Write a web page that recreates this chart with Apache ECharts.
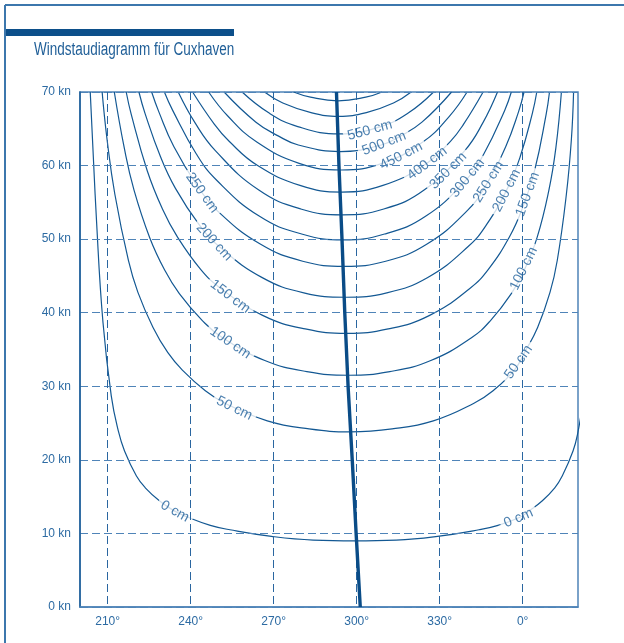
<!DOCTYPE html>
<html>
<head>
<meta charset="utf-8">
<script src="https://cdn.jsdelivr.net/npm/echarts@6/dist/echarts.min.js"></script>
<style>
  html, body { margin: 0; padding: 0; background: #ffffff; }
  #chart { width: 624px; height: 643px; }
</style>
</head>
<body>
<div id="chart"></div>
<script>
// Wind direction in degrees (values past 360 continue into the northern sector)
// against wind speed in knots; each line is one surge height in cm.
const xTicks = [210, 240, 270, 300, 330, 360];
const yTicks = [0, 10, 20, 30, 40, 50, 60, 70];

const surge0 = [[203.7,70],[206.0,52.3],[208.3,38.7],[211.3,28.7],[213.8,24.0],[216.1,21.2],[220.4,17.8],[223.6,16.2],[228.8,14.4],[233.9,13.1],[239.0,12.2],[247.1,11.1],[254.2,10.5],[269.2,9.6],[284.3,9.1],[299.3,9.0],[314.3,9.1],[329.2,9.6],[344.2,10.5],[351.1,11.1],[359.0,12.2],[362.5,13.1],[367.0,14.4],[371.6,16.2],[374.3,17.8],[378.2,21.2],[380.0,23.8],[381.6,27.5]];
const surge50 = [[208.0,70],[209.8,63.5],[212.6,56.1],[217.5,47.1],[220.9,42.8],[226.4,38.0],[231.7,34.6],[237.0,32.2],[245.3,29.4],[252.4,27.7],[267.7,25.3],[282.8,24.2],[297.8,23.8],[312.8,24.2],[327.7,25.3],[342.4,27.7],[349.3,29.4],[357.0,32.2],[360.7,34.6],[365.4,38.0],[369.9,42.8],[372.5,47.1],[375.8,56.1],[377.6,63.5],[378.4,70]];
const surge100 = [[212.4,70],[216.0,62.4],[219.5,56.7],[225.2,50.2],[230.6,45.8],[235.9,42.6],[244.3,38.9],[251.5,36.6],[266.8,33.5],[282.0,32.0],[297.1,31.5],[312.0,32.0],[326.8,33.5],[341.5,36.6],[348.3,38.9],[355.9,42.6],[360.6,45.8],[365.2,50.2],[369.5,56.7],[372.0,62.4],[374.0,70]];
const surge150 = [[216.7,70],[218.5,67.0],[224.3,59.3],[229.8,54.1],[235.2,50.3],[243.6,45.9],[250.9,43.3],[266.2,39.6],[281.4,37.8],[296.5,37.2],[311.4,37.8],[326.2,39.6],[340.9,43.3],[347.6,45.9],[355.2,50.3],[359.8,54.1],[364.3,59.3],[368.5,67.0],[369.7,70]];
const surge200 = [[221.3,70],[223.5,67.1],[229.1,61.2],[234.5,56.9],[243.0,52.0],[250.3,49.0],[265.7,44.8],[280.9,42.7],[296.0,42.1],[310.9,42.7],[325.7,44.8],[340.3,49.0],[347.0,52.0],[354.5,56.9],[359.1,61.2],[363.5,67.1],[365.1,70]];
const surge250 = [[225.9,70],[228.5,67.3],[233.9,62.6],[242.5,57.2],[249.8,53.8],[265.3,49.3],[280.5,47.0],[295.6,46.3],[310.5,47.0],[325.3,49.3],[339.8,53.8],[346.5,57.2],[353.9,62.6],[358.5,67.3],[360.5,70]];
const surge300 = [[230.5,70],[233.5,67.5],[242.0,61.6],[249.4,58.0],[264.9,53.1],[280.1,50.7],[295.2,49.9],[310.1,50.7],[324.9,53.1],[339.4,58.0],[346.0,61.6],[353.5,67.5],[355.9,70]];
const surge350 = [[235.5,70],[241.6,65.8],[249.0,62.0],[264.5,56.7],[279.8,54.1],[294.9,53.3],[309.8,54.1],[324.5,56.7],[339.0,62.0],[345.6,65.8],[350.9,70]];
const surge400 = [[240.7,70],[248.6,65.6],[253.9,63.3],[264.2,60.0],[279.5,57.3],[294.6,56.4],[309.5,57.3],[324.2,60.0],[333.9,63.3],[338.6,65.6],[345.7,70]];
const surge450 = [[246.5,70],[253.5,66.7],[263.9,63.2],[279.2,60.3],[294.3,59.4],[309.2,60.3],[323.9,63.2],[333.5,66.7],[339.9,70]];
const surge500 = [[252.1,70],[263.6,65.9],[271.8,64.0],[278.9,62.8],[294.0,61.9],[308.9,62.8],[315.8,64.0],[323.6,65.9],[334.3,70]];
const surge550 = [[258.6,70],[268.5,67.1],[278.7,65.3],[293.8,64.3],[308.7,65.3],[318.5,67.1],[327.8,70]];
const surge600 = [[266.7,70],[273.3,68.5],[283.5,67.2],[293.5,66.7],[303.5,67.2],[313.3,68.5],[319.7,70]];
const surge650 = [[277.2,70],[283.3,69.3],[293.3,68.8],[303.3,69.3],[309.2,70]];

// Direction of the strongest set-up for each wind speed
const maxSurgeDirection = [[301.3,0],[299.8,10],[298.4,20],[296.9,30],[295.7,40],[294.7,50],[293.6,60],[292.7,70]];

// Height labels written on the lines: [cm, direction, speed]
const lineLabels = [
  [550, 304.8, 64.8], [500, 309.9, 63.0], [450, 316.1, 61.3], [400, 325.5, 60.3],
  [350, 333.1, 59.3], [300, 340.0, 58.3], [250, 347.7, 57.8], [200, 354.2, 56.6],
  [150, 361.8, 56.1], [100, 360.4, 46.0], [50, 358.5, 33.3], [0, 358.5, 12.1],
  [250, 244.1, 56.3], [200, 248.5, 49.6], [150, 254.3, 42.2], [100, 254.3, 35.9],
  [50, 255.8, 27.0], [0, 234.3, 13.0]
];
// text rotation of each label above, in the same order
const lineLabelAngles = [15, 21, 27, 37, 45, 51, 58, 63, 70, 64, 55, 23, -54, -47, -37, -34, -26, -29];

const curves = [surge0, surge50, surge100, surge150, surge200, surge250, surge300,
                 surge350, surge400, surge450, surge500, surge550, surge600, surge650];

const FONT = '"Liberation Sans", Arial, sans-serif';
const LINE = '#135893';
const TEXT = '#2d6ba3';

const chart = echarts.init(document.getElementById('chart'), null, { renderer: 'canvas' });

const series = curves.map(function (pts) {
  return {
    type: 'line', data: pts, smooth: 0.45, symbol: 'none', silent: true, clip: true,
    lineStyle: { color: LINE, width: 1.2 }, z: 2, animation: false
  };
});

series.push({
  type: 'scatter', symbolSize: 0, silent: true, z: 3, animation: false,
  data: lineLabels.map(function (d, i) {
    return {
      value: [d[1], d[2]],
      label: { formatter: d[0] + ' cm', rotate: lineLabelAngles[i] }
    };
  }),
  label: {
    show: true, position: 'inside', align: 'center', verticalAlign: 'middle',
    fontFamily: FONT, fontSize: 14, color: '#1f609b',
    backgroundColor: '#ffffff', padding: [0, 4]
  }
});

series.push({
  type: 'line', data: maxSurgeDirection, symbol: 'none', silent: true, clip: true,
  lineStyle: { color: '#0a4c87', width: 3.4 }, z: 6, animation: false
});

chart.setOption({
  animation: false,
  backgroundColor: '#ffffff',
  graphic: [
    { type: 'line', shape: { x1: 5, y1: 5, x2: 624, y2: 5 }, style: { stroke: '#3c77ad', lineWidth: 2 } },
    { type: 'line', shape: { x1: 5, y1: 5, x2: 5, y2: 643 }, style: { stroke: '#3c77ad', lineWidth: 2 } },
    { type: 'rect', shape: { x: 6, y: 29, width: 228, height: 7 }, style: { fill: '#0c4f8a' } },
    { type: 'text', x: 34, y: 50, scaleX: 0.75,
      style: { text: 'Windstaudiagramm für Cuxhaven', font: '18px ' + FONT, fill: '#1f5e97', textVerticalAlign: 'middle' } }
  ],
  grid: { left: 80, right: 46, top: 92, bottom: 36, show: true, borderColor: '#4f84b8', borderWidth: 1.5 },
  xAxis: {
    type: 'value', min: 200, max: 380, z: 4,
    axisLine: { show: true, onZero: false, lineStyle: { color: '#4f84b8', width: 1.5 } },
    axisTick: { show: false, customValues: xTicks },
    axisLabel: {
      customValues: xTicks, margin: 9, fontFamily: FONT, fontSize: 12, color: TEXT,
      formatter: function (v) { return (v % 360) + '°'; }
    },
    splitLine: { show: true, lineStyle: { type: [8, 4], color: '#2a66a0', width: 1 } }
  },
  yAxis: {
    type: 'value', min: 0, max: 70, interval: 10, z: 4,
    axisLine: { show: true, onZero: false, lineStyle: { color: '#1d5c97', width: 1.5 } },
    axisTick: { show: false },
    axisLabel: { margin: 9, fontFamily: FONT, fontSize: 12, color: TEXT, formatter: '{value} kn' },
    splitLine: { show: true, lineStyle: { type: [8, 4], color: '#4f84b8', width: 1 } }
  },
  series: series
});
</script>
</body>
</html>
